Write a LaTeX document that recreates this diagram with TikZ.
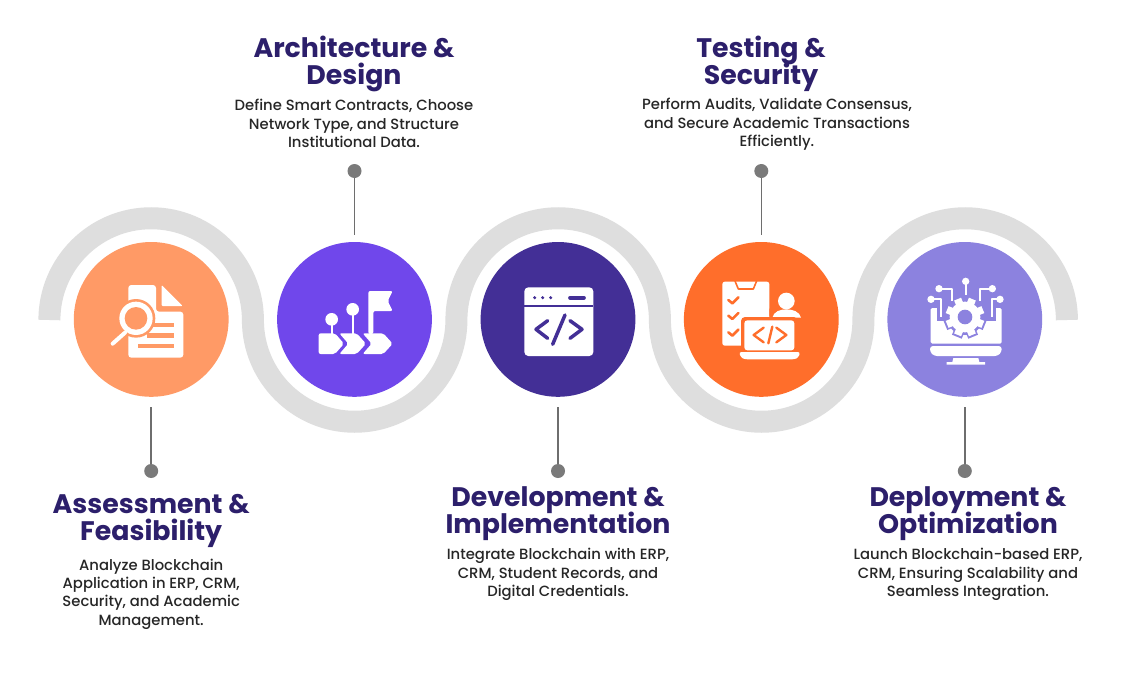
\documentclass[tikz,border=0pt]{standalone}
\usepackage{fontspec}
\setmainfont{Poppins}[UprightFont=* Medium,BoldFont=* Bold]
\definecolor{band}{HTML}{DEDEDE}
\definecolor{cA}{HTML}{FF9A66}
\definecolor{cB}{HTML}{7047EB}
\definecolor{cC}{HTML}{432F96}
\definecolor{cD}{HTML}{FF6E2B}
\definecolor{cE}{HTML}{8C82DF}
\definecolor{ttl}{HTML}{2C1F6B}
\definecolor{bodytxt}{HTML}{262626}
\definecolor{lead}{HTML}{6E6E6E}
\definecolor{dotc}{HTML}{7A7A7A}
\newcommand{\ttlfont}{\bfseries\fontsize{26.8}{27}\selectfont\lineskiplimit=-100pt\relax}
\newcommand{\bodyfnt}{\fontsize{14.8}{18.4}\selectfont\lineskiplimit=-100pt\relax}
\tikzset{
  disc/.style={circle,minimum size=154.8pt,inner sep=0pt,fill=#1},
  leaddot/.style={circle,minimum size=14pt,inner sep=0pt,fill=dotc},
  leadline/.style={draw=lead,line width=1.5pt,shorten >=#1},
  ttlbox/.style={inner sep=0pt,anchor=north,align=center,text=ttl,font=\ttlfont},
  bodybox/.style={inner sep=0pt,anchor=north,align=center,text=bodytxt,font=\bodyfnt},
  zoomed/.style={shift={#1},x=0.33333pt,y=-0.33333pt},
  wl/.style={draw=white,line cap=round,line join=round},
}
\begin{document}
\begin{tikzpicture}[x=1pt,y=-1pt]
\useasboundingbox (0,0) rectangle (1125,688);
\fill[white] (0,0) rectangle (1125,688);
% ribbon
\draw[band,line width=22pt] (49.4,320)
  arc[start angle=180,end angle=0,radius=101.75pt]
  arc[start angle=180,end angle=360,radius=101.75pt]
  arc[start angle=180,end angle=0,radius=101.75pt]
  arc[start angle=180,end angle=360,radius=101.75pt]
  arc[start angle=180,end angle=0,radius=101.75pt];
% discs
\node[disc=cA] (a) at (151.2,319.4) {};
\node[disc=cB] (b) at (354.5,319.4) {};
\node[disc=cC] (c) at (558,319.4) {};
\node[disc=cD] (d) at (761.3,319.4) {};
\node[disc=cE] (e) at (964.8,319.4) {};
% leaders
\node[leaddot] (da) at (151.2,471) {};
\node[leaddot] (db) at (354.5,171) {};
\node[leaddot] (dc) at (558,471) {};
\node[leaddot] (dd) at (761.3,171) {};
\node[leaddot] (de) at (964.8,471) {};
\draw[leadline=10pt] (da) -- (a);
\draw[leadline=7pt] (db) -- (b);
\draw[leadline=10pt] (dc) -- (c);
\draw[leadline=7pt] (dd) -- (d);
\draw[leadline=10pt] (de) -- (e);
% titles
\node[ttlbox] (ta) at (151.2,494.5) {Assessment \&\\Feasibility};
\node[ttlbox] (tb) at (354,36) {Architecture \&\\Design};
\node[ttlbox] (tc) at (558,486) {Development \&\\Implementation};
\node[ttlbox] (td) at (761,36) {Testing \&\\Security};
\node[ttlbox] (te) at (968,486) {Deployment \&\\Optimization};
% bodies
\node[bodybox] (ba) at (151.2,558.5) {Analyze Blockchain\\Application in ERP, CRM,\\Security, and Academic\\Management.};
\node[bodybox] (bb) at (354,99) {Define Smart Contracts, Choose\\Network Type, and Structure\\Institutional Data.};
\node[bodybox] (bc) at (558,548) {Integrate Blockchain with ERP,\\CRM, Student Records, and\\Digital Credentials.};
\node[bodybox] (bd) at (777,98) {Perform Audits, Validate Consensus,\\and Secure Academic Transactions\\Efficiently.};
\node[bodybox] (be) at (968,548) {Launch Blockchain-based ERP,\\CRM, Ensuring Scalability and\\Seamless Integration.};
% icon A: document and lens
\begin{scope}[zoomed={(60,230)}]
\fill[white,rounded corners=3pt] (205,165) -- (288,165) -- (288,245) -- (370,245) -- (370,383) -- (205,383) -- cycle;
\fill[white,rounded corners=1pt] (305,165) -- (368,228) -- (305,228) -- cycle;
\fill[cA] (262,278) rectangle (343,292);
\fill[cA] (262,310) rectangle (343,323);
\fill[cA] (235,342) rectangle (343,355);
\fill[cA] (150,200) rectangle (205,330);
\fill[cA] (228,265) circle[radius=58];
\fill[white] (228,265) circle[radius=50];
\fill[cA] (228,265) circle[radius=34];
\draw[wl,line width=4pt] (195,308) -- (158,341);
\end{scope}
% icon B: flag and chevrons
\begin{scope}[zoomed={(60,230)}]
\fill[white,rounded corners=2pt] (925,183) -- (998,183) -- (983,213) -- (998,243) -- (940,243) -- (940,312) -- (925,312) -- cycle;
\draw[white,line width=1.7pt] (815,268) -- (815,312);
\draw[white,line width=1.7pt] (878,238) -- (878,312);
\fill[white] (815,268) circle[radius=19];
\fill[white] (878,238) circle[radius=19];
\fill[white,rounded corners=2pt] (776,310) -- (825,310) -- (852,341) -- (825,372) -- (776,372) -- cycle;
\fill[white,rounded corners=2pt] (838,310) -- (890,310) -- (918,341) -- (890,372) -- (838,372) -- (865,341) -- cycle;
\fill[white,rounded corners=2pt] (908,310) -- (970,310) -- (998,341) -- (970,372) -- (908,372) -- (935,341) -- cycle;
\end{scope}
% icon C: code window
\begin{scope}[zoomed={(470,230)}]
\fill[white,rounded corners=4pt] (163,172) rectangle (370,378);
\fill[cC] (163,225) rectangle (370,232);
\fill[cC] (194,203) circle[radius=5] (218,203) circle[radius=5] (242,203) circle[radius=5];
\draw[cC,line width=3.7pt,line cap=round] (300,203) -- (342,203);
\draw[cC,line width=3.5pt,line cap=round,line join=round] (233,272) -- (198,298) -- (233,325);
\draw[cC,line width=3.5pt,line cap=round] (285,255) -- (248,343);
\draw[cC,line width=3.5pt,line cap=round,line join=round] (300,272) -- (336,298) -- (300,325);
\end{scope}
% icon D: checklist, person, laptop
\begin{scope}[zoomed={(715,275)}]
\fill[white,rounded corners=2.5pt] (22,20) rectangle (163,212);
\draw[cD,line width=1.6pt,line join=round] (60,18) -- (70,42) -- (115,42) -- (125,18);
\foreach \yy in {0,47,97}{
  \draw[cD,line width=2.6pt,line cap=round,line join=round] (40,75+\yy) -- (52,85+\yy) -- (70,67+\yy);
}
\fill[cD,rounded corners=3pt] (163,95) rectangle (270,130);
\fill[white] (214,78) circle[radius=25];
\fill[white] (172,128) .. controls (176,110) and (195,103) .. (214,103) .. controls (233,103) and (254,110) .. (258,128) -- cycle;
\fill[cD,rounded corners=4pt] (78,126) rectangle (248,232);
\fill[white,rounded corners=3pt] (88,136) rectangle (238,226);
\draw[cD,line width=2.4pt,line cap=round,line join=round] (146,158) -- (116,180) -- (146,202);
\draw[cD,line width=2.4pt,line cap=round] (172,155) -- (160,205);
\draw[cD,line width=2.4pt,line cap=round,line join=round] (184,158) -- (214,180) -- (184,202);
\fill[white,rounded corners=2.5pt] (72,231) -- (256,231) -- (250,248) -- (238,253) -- (90,253) -- (78,248) -- cycle;
\end{scope}
% icon E: monitor, gear, circuits
\begin{scope}[zoomed={(920,272)}]
\fill[white,rounded corners=1.5pt] (32,108) rectangle (245,215);
\fill[cE] (50,100) rectangle (228,148);
\fill[white,rounded corners=3pt] (30,222) -- (245,222) -- (245,240) -- (233,252) -- (42,252) -- (30,240) -- cycle;
\fill[white] (100,258) -- (175,258) -- (178,270) -- (195,270) -- (195,278) -- (80,278) -- (80,270) -- (97,270) -- cycle;
\begin{scope}[shift={(135,135)}]
\fill[cE] (0,0) circle[radius=54];
\foreach \aa in {22.5,67.5,...,360}{
  \draw[cE,line width=10.5pt] (\aa:35) -- (\aa:64);
}
\fill[white] (0,0) circle[radius=46];
\foreach \aa in {22.5,67.5,...,360}{
  \draw[white,line width=7.5pt] (\aa:35) -- (\aa:58);
}
\fill[cE] (0,0) circle[radius=22];
\end{scope}
\draw[white,line width=1.7pt,line join=round] (137,28) -- (137,70);
\draw[white,line width=1.7pt,line join=round] (57,50) -- (95,50) -- (95,88);
\draw[white,line width=1.7pt,line join=round] (33,82) -- (62,82) -- (62,135);
\draw[white,line width=1.7pt,line join=round] (217,50) -- (180,50) -- (180,88);
\draw[white,line width=1.7pt,line join=round] (240,82) -- (215,82) -- (215,135);
\fill[white] (137,28) circle[radius=11] (57,50) circle[radius=11] (33,82) circle[radius=11] (217,50) circle[radius=11] (240,82) circle[radius=11];
\end{scope}
\end{tikzpicture}
\end{document}
